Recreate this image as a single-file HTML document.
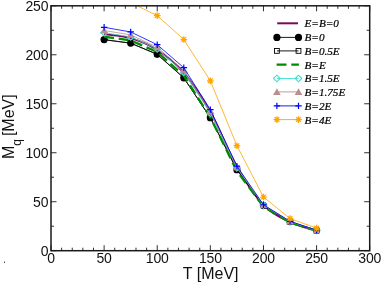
<!DOCTYPE html>
<html><head><meta charset="utf-8"><title>Mq vs T</title>
<style>html,body{margin:0;padding:0;background:#fff;}body{width:382px;height:283px;overflow:hidden;font-family:"Liberation Sans",sans-serif;}svg{display:block;will-change:transform;}</style>
</head><body>
<svg width="382" height="283" viewBox="0 0 382 283">
<rect width="382" height="283" fill="#fff"/>
<defs><clipPath id="c"><rect x="51.0" y="5.8" width="318.7" height="244.89999999999998"/></clipPath></defs>
<g clip-path="url(#c)">
<path d="M104.12,34.06C108.54,34.74 121.82,35.45 130.68,38.10C139.53,40.75 148.38,44.19 157.23,49.97C166.09,55.75 174.94,62.41 183.79,72.76C192.64,83.10 201.50,96.42 210.35,112.05C219.20,127.67 228.06,151.01 236.91,166.51C245.76,182.02 254.61,195.82 263.47,205.07C272.32,214.32 281.17,217.78 290.02,222.02C298.88,226.26 312.16,229.10 316.58,230.52" fill="none" stroke="#780a5e" stroke-width="2"/>
<polyline points="104.12,39.60 130.68,43.12 157.23,54.29 183.79,77.80 210.35,117.67 236.91,169.69 263.47,205.54 290.02,221.70 316.58,230.42" fill="none" stroke="#000" stroke-width="0.8"/>
<circle cx="104.12" cy="39.60" r="3.6" fill="#000"/>
<circle cx="130.68" cy="43.12" r="3.6" fill="#000"/>
<circle cx="157.23" cy="54.29" r="3.6" fill="#000"/>
<circle cx="183.79" cy="77.80" r="3.6" fill="#000"/>
<circle cx="210.35" cy="117.67" r="3.6" fill="#000"/>
<circle cx="236.91" cy="169.69" r="3.6" fill="#000"/>
<circle cx="263.47" cy="205.54" r="3.6" fill="#000"/>
<circle cx="290.02" cy="221.70" r="3.6" fill="#000"/>
<circle cx="316.58" cy="230.42" r="3.6" fill="#000"/>
<polyline points="104.12,39.69 130.68,43.22 157.23,54.39 183.79,77.90 210.35,117.77 236.91,169.79 263.47,205.64 290.02,221.80 316.58,230.52" fill="none" stroke="#000" stroke-width="0.8"/>
<rect x="101.97" y="37.54" width="4.3" height="4.3" fill="none" stroke="#000" stroke-width="0.9"/>
<rect x="128.53" y="41.07" width="4.3" height="4.3" fill="none" stroke="#000" stroke-width="0.9"/>
<rect x="155.08" y="52.24" width="4.3" height="4.3" fill="none" stroke="#000" stroke-width="0.9"/>
<rect x="181.64" y="75.75" width="4.3" height="4.3" fill="none" stroke="#000" stroke-width="0.9"/>
<rect x="208.20" y="115.62" width="4.3" height="4.3" fill="none" stroke="#000" stroke-width="0.9"/>
<rect x="234.76" y="167.64" width="4.3" height="4.3" fill="none" stroke="#000" stroke-width="0.9"/>
<rect x="261.32" y="203.49" width="4.3" height="4.3" fill="none" stroke="#000" stroke-width="0.9"/>
<rect x="287.88" y="219.65" width="4.3" height="4.3" fill="none" stroke="#000" stroke-width="0.9"/>
<rect x="314.43" y="228.37" width="4.3" height="4.3" fill="none" stroke="#000" stroke-width="0.9"/>
<polyline points="104.12,36.65 130.68,40.44 157.23,51.99 183.79,75.58 210.35,117.27 236.91,171.10 263.47,206.72 290.02,222.49 316.58,231.01" fill="none" stroke="#008b00" stroke-width="2.3" stroke-dasharray="9.9 4.8"/>
<polyline points="104.12,32.71 130.68,36.87 157.23,48.91 183.79,72.15 210.35,113.17 236.91,167.71 263.47,205.10 290.02,221.48 316.58,230.31" fill="none" stroke="#40e0d0" stroke-width="0.8"/>
<path d="M100.82,32.71L104.12,29.41L107.42,32.71L104.12,36.01Z" fill="none" stroke="#40e0d0" stroke-width="1.1"/>
<path d="M127.38,36.87L130.68,33.57L133.98,36.87L130.68,40.17Z" fill="none" stroke="#40e0d0" stroke-width="1.1"/>
<path d="M153.93,48.91L157.23,45.61L160.53,48.91L157.23,52.21Z" fill="none" stroke="#40e0d0" stroke-width="1.1"/>
<path d="M180.49,72.15L183.79,68.85L187.09,72.15L183.79,75.45Z" fill="none" stroke="#40e0d0" stroke-width="1.1"/>
<path d="M207.05,113.17L210.35,109.87L213.65,113.17L210.35,116.47Z" fill="none" stroke="#40e0d0" stroke-width="1.1"/>
<path d="M233.61,167.71L236.91,164.41L240.21,167.71L236.91,171.01Z" fill="none" stroke="#40e0d0" stroke-width="1.1"/>
<path d="M260.17,205.10L263.47,201.80L266.77,205.10L263.47,208.40Z" fill="none" stroke="#40e0d0" stroke-width="1.1"/>
<path d="M286.72,221.48L290.02,218.18L293.32,221.48L290.02,224.78Z" fill="none" stroke="#40e0d0" stroke-width="1.1"/>
<path d="M313.28,230.31L316.58,227.01L319.88,230.31L316.58,233.61Z" fill="none" stroke="#40e0d0" stroke-width="1.1"/>
<polyline points="104.12,30.50 130.68,34.86 157.23,47.19 183.79,70.33 210.35,111.73 236.91,167.08 263.47,204.96 290.02,221.41 316.58,230.28" fill="none" stroke="#bc8f8f" stroke-width="0.8"/>
<path d="M100.32,33.60L107.92,33.60L104.12,26.90Z" fill="#bc8f8f"/>
<path d="M126.88,37.96L134.48,37.96L130.68,31.26Z" fill="#bc8f8f"/>
<path d="M153.43,50.29L161.03,50.29L157.23,43.59Z" fill="#bc8f8f"/>
<path d="M179.99,73.43L187.59,73.43L183.79,66.73Z" fill="#bc8f8f"/>
<path d="M206.55,114.83L214.15,114.83L210.35,108.13Z" fill="#bc8f8f"/>
<path d="M233.11,170.18L240.71,170.18L236.91,163.48Z" fill="#bc8f8f"/>
<path d="M259.67,208.06L267.27,208.06L263.47,201.36Z" fill="#bc8f8f"/>
<path d="M286.22,224.51L293.82,224.51L290.02,217.81Z" fill="#bc8f8f"/>
<path d="M312.78,233.38L320.38,233.38L316.58,226.68Z" fill="#bc8f8f"/>
<polyline points="104.12,27.30 130.68,31.96 157.23,44.69 183.79,67.71 210.35,109.64 236.91,166.16 263.47,204.76 290.02,221.31 316.58,230.23" fill="none" stroke="#0000ff" stroke-width="0.8"/>
<path d="M100.92,27.30H107.32M104.12,24.10V30.50" stroke="#0000ff" stroke-width="1.2" fill="none"/>
<path d="M127.48,31.96H133.88M130.68,28.76V35.16" stroke="#0000ff" stroke-width="1.2" fill="none"/>
<path d="M154.03,44.69H160.43M157.23,41.49V47.89" stroke="#0000ff" stroke-width="1.2" fill="none"/>
<path d="M180.59,67.71H186.99M183.79,64.51V70.91" stroke="#0000ff" stroke-width="1.2" fill="none"/>
<path d="M207.15,109.64H213.55M210.35,106.44V112.84" stroke="#0000ff" stroke-width="1.2" fill="none"/>
<path d="M233.71,166.16H240.11M236.91,162.96V169.36" stroke="#0000ff" stroke-width="1.2" fill="none"/>
<path d="M260.27,204.76H266.67M263.47,201.56V207.96" stroke="#0000ff" stroke-width="1.2" fill="none"/>
<path d="M286.82,221.31H293.22M290.02,218.11V224.51" stroke="#0000ff" stroke-width="1.2" fill="none"/>
<path d="M313.38,230.23H319.78M316.58,227.03V233.43" stroke="#0000ff" stroke-width="1.2" fill="none"/>
<polyline points="104.12,-2.04 130.68,2.67 157.23,15.60 183.79,39.50 210.35,80.84 236.91,145.69 263.47,197.02 290.02,218.57 316.58,228.17" fill="none" stroke="#ffa500" stroke-width="0.8"/>
<path d="M100.82,-2.04H107.42M104.12,-5.34V1.26M101.78,-4.37L106.45,0.30M101.78,0.30L106.45,-4.37" stroke="#ffa500" stroke-width="1.25" fill="none"/>
<path d="M127.38,2.67H133.98M130.68,-0.63V5.97M128.34,0.33L133.01,5.00M128.34,5.00L133.01,0.33" stroke="#ffa500" stroke-width="1.25" fill="none"/>
<path d="M153.93,15.60H160.53M157.23,12.30V18.90M154.90,13.26L159.57,17.93M154.90,17.93L159.57,13.26" stroke="#ffa500" stroke-width="1.25" fill="none"/>
<path d="M180.49,39.50H187.09M183.79,36.20V42.80M181.46,37.17L186.12,41.83M181.46,41.83L186.12,37.17" stroke="#ffa500" stroke-width="1.25" fill="none"/>
<path d="M207.05,80.84H213.65M210.35,77.54V84.14M208.02,78.50L212.68,83.17M208.02,83.17L212.68,78.50" stroke="#ffa500" stroke-width="1.25" fill="none"/>
<path d="M233.61,145.69H240.21M236.91,142.39V148.99M234.58,143.35L239.24,148.02M234.58,148.02L239.24,143.35" stroke="#ffa500" stroke-width="1.25" fill="none"/>
<path d="M260.17,197.02H266.77M263.47,193.72V200.32M261.13,194.68L265.80,199.35M261.13,199.35L265.80,194.68" stroke="#ffa500" stroke-width="1.25" fill="none"/>
<path d="M286.72,218.57H293.32M290.02,215.27V221.87M287.69,216.24L292.36,220.90M287.69,220.90L292.36,216.24" stroke="#ffa500" stroke-width="1.25" fill="none"/>
<path d="M313.28,228.17H319.88M316.58,224.87V231.47M314.25,225.84L318.92,230.50M314.25,230.50L318.92,225.84" stroke="#ffa500" stroke-width="1.25" fill="none"/>
</g>
<rect x="51.0" y="5.8" width="318.7" height="244.89999999999998" fill="none" stroke="#1a1a1a" stroke-width="1.5"/>
<path d="M51.00,250.7v-5.5M51.00,5.8v5.5M61.62,250.7v-3M61.62,5.8v3M72.25,250.7v-3M72.25,5.8v3M82.87,250.7v-3M82.87,5.8v3M93.49,250.7v-3M93.49,5.8v3M104.12,250.7v-5.5M104.12,5.8v5.5M114.74,250.7v-3M114.74,5.8v3M125.36,250.7v-3M125.36,5.8v3M135.99,250.7v-3M135.99,5.8v3M146.61,250.7v-3M146.61,5.8v3M157.23,250.7v-5.5M157.23,5.8v5.5M167.86,250.7v-3M167.86,5.8v3M178.48,250.7v-3M178.48,5.8v3M189.10,250.7v-3M189.10,5.8v3M199.73,250.7v-3M199.73,5.8v3M210.35,250.7v-5.5M210.35,5.8v5.5M220.97,250.7v-3M220.97,5.8v3M231.60,250.7v-3M231.60,5.8v3M242.22,250.7v-3M242.22,5.8v3M252.84,250.7v-3M252.84,5.8v3M263.47,250.7v-5.5M263.47,5.8v5.5M274.09,250.7v-3M274.09,5.8v3M284.71,250.7v-3M284.71,5.8v3M295.34,250.7v-3M295.34,5.8v3M305.96,250.7v-3M305.96,5.8v3M316.58,250.7v-5.5M316.58,5.8v5.5M327.21,250.7v-3M327.21,5.8v3M337.83,250.7v-3M337.83,5.8v3M348.45,250.7v-3M348.45,5.8v3M359.08,250.7v-3M359.08,5.8v3M369.70,250.7v-5.5M369.70,5.8v5.5M51.0,250.70h5.5M369.7,250.70h-5.5M51.0,226.21h3M369.7,226.21h-3M51.0,201.72h5.5M369.7,201.72h-5.5M51.0,177.23h3M369.7,177.23h-3M51.0,152.74h5.5M369.7,152.74h-5.5M51.0,128.25h3M369.7,128.25h-3M51.0,103.76h5.5M369.7,103.76h-5.5M51.0,79.27h3M369.7,79.27h-3M51.0,54.78h5.5M369.7,54.78h-5.5M51.0,30.29h3M369.7,30.29h-3M51.0,5.80h5.5M369.7,5.80h-5.5" stroke="#1a1a1a" stroke-width="0.9" fill="none"/>
<g font-family="Liberation Sans, sans-serif" font-size="14" fill="#111">
<text x="51.00" y="263.3" text-anchor="middle" letter-spacing="-0.2">0</text>
<text x="104.12" y="263.3" text-anchor="middle" letter-spacing="-0.2">50</text>
<text x="157.23" y="263.3" text-anchor="middle" letter-spacing="-0.2">100</text>
<text x="210.35" y="263.3" text-anchor="middle" letter-spacing="-0.2">150</text>
<text x="263.47" y="263.3" text-anchor="middle" letter-spacing="-0.2">200</text>
<text x="316.58" y="263.3" text-anchor="middle" letter-spacing="-0.2">250</text>
<text x="369.70" y="263.3" text-anchor="middle" letter-spacing="-0.2">300</text>
<text x="48.3" y="255.70" text-anchor="end" letter-spacing="-0.2">0</text>
<text x="48.3" y="206.72" text-anchor="end" letter-spacing="-0.2">50</text>
<text x="48.3" y="157.74" text-anchor="end" letter-spacing="-0.2">100</text>
<text x="48.3" y="108.76" text-anchor="end" letter-spacing="-0.2">150</text>
<text x="48.3" y="59.78" text-anchor="end" letter-spacing="-0.2">200</text>
<text x="48.3" y="10.80" text-anchor="end" letter-spacing="-0.2">250</text>
</g>
<g font-family="Liberation Sans, sans-serif" font-size="15" fill="#111">
<text x="210.7" y="278.6" text-anchor="middle" font-size="16">T [MeV]</text>
<g transform="translate(14.2,159.0) rotate(-90)" font-size="16"><text x="0" y="0">M</text><text x="13.3" y="6.3" font-size="12">q</text><text x="22.9" y="0">[MeV]</text></g>
</g>
<rect x="4" y="261.6" width="1" height="1.4" fill="#444"/>
<path d="M277.2,23.3H298" stroke="#780a5e" stroke-width="2" fill="none"/>
<path d="M276.9,37.4H298.5" stroke="#000" stroke-width="0.9" fill="none"/>
<circle cx="276.90" cy="37.40" r="3.6" fill="#000"/>
<circle cx="298.50" cy="37.40" r="3.6" fill="#000"/>
<path d="M276.9,50.9H298.5" stroke="#000" stroke-width="0.9" fill="none"/>
<rect x="274.50" y="48.50" width="4.8" height="4.8" fill="none" stroke="#000" stroke-width="0.9"/>
<rect x="296.10" y="48.50" width="4.8" height="4.8" fill="none" stroke="#000" stroke-width="0.9"/>
<path d="M276.6,64.7H298.9" stroke="#008b00" stroke-width="2.3" stroke-dasharray="9.9 4.8" fill="none"/>
<path d="M276.9,78.5H298.5" stroke="#40e0d0" stroke-width="0.9" fill="none"/>
<path d="M273.60,78.50L276.90,75.20L280.20,78.50L276.90,81.80Z" fill="none" stroke="#40e0d0" stroke-width="1.1"/>
<path d="M295.20,78.50L298.50,75.20L301.80,78.50L298.50,81.80Z" fill="none" stroke="#40e0d0" stroke-width="1.1"/>
<path d="M276.9,91.9H298.5" stroke="#bc8f8f" stroke-width="0.9" fill="none"/>
<path d="M273.10,95.00L280.70,95.00L276.90,88.30Z" fill="#bc8f8f"/>
<path d="M294.70,95.00L302.30,95.00L298.50,88.30Z" fill="#bc8f8f"/>
<path d="M276.9,105.9H298.5" stroke="#0000ff" stroke-width="0.9" fill="none"/>
<path d="M273.70,105.90H280.10M276.90,102.70V109.10" stroke="#0000ff" stroke-width="1.2" fill="none"/>
<path d="M295.30,105.90H301.70M298.50,102.70V109.10" stroke="#0000ff" stroke-width="1.2" fill="none"/>
<path d="M276.9,119.6H298.5" stroke="#ffa500" stroke-width="0.9" fill="none"/>
<path d="M273.60,119.60H280.20M276.90,116.30V122.90M274.57,117.27L279.23,121.93M274.57,121.93L279.23,117.27" stroke="#ffa500" stroke-width="1.25" fill="none"/>
<path d="M295.20,119.60H301.80M298.50,116.30V122.90M296.17,117.27L300.83,121.93M296.17,121.93L300.83,117.27" stroke="#ffa500" stroke-width="1.25" fill="none"/>
<g font-family="Liberation Serif, serif" font-size="11.2" font-style="italic" fill="#000" stroke="#000" stroke-width="0.22">
<text x="304.5" y="27.20">E=B=0</text>
<text x="304.5" y="41.30">B=0</text>
<text x="304.5" y="54.80">B=0.5E</text>
<text x="304.5" y="68.60">B=E</text>
<text x="304.5" y="82.40">B=1.5E</text>
<text x="304.5" y="95.80">B=1.75E</text>
<text x="304.5" y="109.80">B=2E</text>
<text x="304.5" y="123.50">B=4E</text>
</g>
</svg>
</body></html>
